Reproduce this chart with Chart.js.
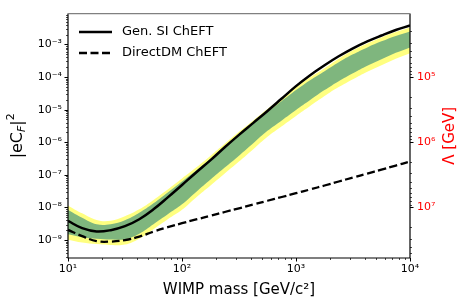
<!DOCTYPE html>
<html>
<head>
<meta charset="utf-8">
<script src="https://cdn.jsdelivr.net/npm/chart.js@4.4.0/dist/chart.umd.min.js"></script>
<style>
  html, body { margin: 0; padding: 0; background: #fff; }
  canvas { display: block; }
</style>
</head>
<body>
<canvas id="limits" width="467" height="308"></canvas>
<script>
// WIMP masses [GeV/c^2]
const masses = [10, 13.3, 17.8, 23.7, 31.6, 42.2, 56.2, 75, 100, 133, 178, 237, 316, 422, 562, 750, 1000, 1330, 1780, 2370, 3160, 4220, 5620, 7500, 10000];

// |eC_F|^2 curves
const genSI = [3.87e-9, 2.32e-9, 1.84e-9, 2.02e-9, 2.67e-9, 4.36e-9, 8.79e-9, 2.04e-8, 4.91e-8, 1.18e-7, 2.83e-7, 7.05e-7, 1.69e-6, 3.93e-6, 9.12e-6, 2.19e-5, 5.26e-5, 1.14e-4, 2.30e-4, 4.32e-4, 7.57e-4, 1.24e-3, 1.88e-3, 2.77e-3, 3.79e-3];
const directDM = [2.06e-9, 1.32e-9, 9.33e-10, 9.0e-10, 1.0e-9, 1.28e-9, 1.82e-9, 2.49e-9, 3.30e-9, 4.30e-9, 5.57e-9, 7.28e-9, 9.44e-9, 1.23e-8, 1.61e-8, 2.10e-8, 2.74e-8, 3.57e-8, 4.73e-8, 6.27e-8, 8.30e-8, 1.10e-7, 1.45e-7, 1.93e-7, 2.55e-7];

// uncertainty bands (yellow = outer, green = inner)
const band2Hi = [1.14e-8, 6.64e-9, 4.15e-9, 3.93e-9, 5.38e-9, 8.79e-9, 1.71e-8, 3.57e-8, 7.74e-8, 1.67e-7, 3.88e-7, 9.02e-7, 2.09e-6, 4.68e-6, 1.05e-5, 2.27e-5, 4.91e-5, 9.89e-5, 1.86e-4, 3.62e-4, 6.58e-4, 1.07e-3, 1.64e-3, 2.40e-3, 3.30e-3];
const band1Hi = [8.37e-9, 4.84e-9, 3.07e-9, 3.07e-9, 4.06e-9, 6.88e-9, 1.34e-8, 2.90e-8, 6.27e-8, 1.36e-7, 3.15e-7, 7.29e-7, 1.69e-6, 3.79e-6, 8.49e-6, 1.84e-5, 3.97e-5, 8.02e-5, 1.51e-4, 2.83e-4, 4.97e-4, 8.11e-4, 1.24e-3, 1.82e-3, 2.49e-3];
const band1Lo = [1.52e-9, 1.23e-9, 1.10e-9, 1.04e-9, 1.07e-9, 1.58e-9, 3.07e-9, 6.19e-9, 1.25e-8, 3.00e-8, 7.21e-8, 1.67e-7, 3.88e-7, 9.33e-7, 2.24e-6, 4.68e-6, 9.77e-6, 1.97e-5, 3.97e-5, 7.48e-5, 1.31e-4, 2.22e-4, 3.50e-4, 5.52e-4, 8.11e-4];
const band2Lo = [1.02e-9, 8.39e-10, 7.55e-10, 7.05e-10, 7.29e-10, 1.11e-9, 2.16e-9, 4.36e-9, 8.49e-9, 2.04e-8, 4.73e-8, 1.10e-7, 2.55e-7, 6.12e-7, 1.47e-6, 3.08e-6, 6.41e-6, 1.29e-5, 2.61e-5, 4.91e-5, 8.59e-5, 1.46e-4, 2.30e-4, 3.62e-4, 5.32e-4];

// tick labels
const xTicks = [10, 100, 1000, 10000];
const yTicks = [1e-9, 1e-8, 1e-7, 1e-6, 1e-5, 1e-4, 1e-3];
const lambdaTicks = [1e5, 1e6, 1e7];

const yMin = 2.83e-10, yMax = 8.8e-3;

const FONT = 'DejaVu Sans';
const SUP = {'0':'⁰','1':'¹','2':'²','3':'³','4':'⁴','5':'⁵','6':'⁶','7':'⁷','8':'⁸','9':'⁹','-':'⁻'};
function pow10Label(v) {
    const e = Math.round(Math.log10(v));
    return '10' + String(e).split('').map(c => SUP[c]).join('');
}
function pts(ys) {
    return masses.map((m, i) => ({x: m, y: ys[i]}));
}

function drawLogTicks(ctx, scale, side, area) {
    const lo = Math.floor(Math.log10(scale.min)), hi = Math.ceil(Math.log10(scale.max));
    ctx.strokeStyle = '#000';
    for (let e = lo; e <= hi; e++) {
        for (let k = 1; k <= 9; k++) {
            const v = k * Math.pow(10, e);
            if (v < scale.min * 0.999 || v > scale.max * 1.001) continue;
            const len = k === 1 ? 3.5 : 2;
            ctx.lineWidth = k === 1 ? 1 : 0.7;
            const p = Math.round(scale.getPixelForValue(v)) + 0.5;
            ctx.beginPath();
            if (side === 'bottom') { ctx.moveTo(p, area.bottom); ctx.lineTo(p, area.bottom + len); }
            if (side === 'left') { ctx.moveTo(area.left, p); ctx.lineTo(area.left - len, p); }
            if (side === 'right') { ctx.moveTo(area.right, p); ctx.lineTo(area.right + len, p); }
            ctx.stroke();
        }
    }
}

const decor = {
    id: 'decor',
    afterDraw(chart) {
        const ctx = chart.ctx, a = chart.chartArea;
        ctx.save();
        // frame
        ctx.lineWidth = 1.2;
        ctx.strokeStyle = '#000';
        ctx.beginPath();
        ctx.moveTo(a.left, a.top); ctx.lineTo(a.left, a.bottom); ctx.lineTo(a.right, a.bottom); ctx.lineTo(a.right, a.top);
        ctx.stroke();
        ctx.strokeStyle = '#808080';
        ctx.beginPath(); ctx.moveTo(a.left, a.top); ctx.lineTo(a.right, a.top); ctx.stroke();

        drawLogTicks(ctx, chart.scales.x, 'bottom', a);
        drawLogTicks(ctx, chart.scales.y, 'left', a);
        drawLogTicks(ctx, chart.scales.lambda, 'right', a);

        // legend
        ctx.lineWidth = 2.5;
        ctx.strokeStyle = '#000';
        ctx.beginPath(); ctx.moveTo(79, 32); ctx.lineTo(112, 32); ctx.stroke();
        ctx.setLineDash([8, 3.5]);
        ctx.beginPath(); ctx.moveTo(79, 53); ctx.lineTo(112, 53); ctx.stroke();
        ctx.setLineDash([]);
        ctx.fillStyle = '#000';
        ctx.font = '13px "' + FONT + '"';
        ctx.textBaseline = 'middle';
        ctx.textAlign = 'left';
        ctx.fillText('Gen. SI ChEFT', 122, 32);
        ctx.fillText('DirectDM ChEFT', 122, 53);

        // x title
        ctx.font = '15px "' + FONT + '"';
        ctx.textAlign = 'center';
        ctx.fillText('WIMP mass [GeV/c²]', (a.left + a.right) / 2, 290);

        // y title |eC_F|^2
        const parts = [
            {t: '|eC', f: '16px "' + FONT + '"', dy: 0},
            {t: 'F', f: 'italic 11px "' + FONT + '"', dy: 4},
            {t: '|', f: '16px "' + FONT + '"', dy: 0},
            {t: '2', f: '11px "' + FONT + '"', dy: -7}
        ];
        let w = 0;
        parts.forEach(p => { ctx.font = p.f; p.w = ctx.measureText(p.t).width; w += p.w; });
        ctx.save();
        ctx.translate(18, (a.top + a.bottom) / 2);
        ctx.rotate(-Math.PI / 2);
        ctx.textAlign = 'left';
        let cx = -w / 2;
        parts.forEach(p => { ctx.font = p.f; ctx.fillText(p.t, cx, p.dy); cx += p.w; });
        ctx.restore();

        // right title
        ctx.save();
        ctx.translate(450, (a.top + a.bottom) / 2);
        ctx.rotate(-Math.PI / 2);
        ctx.fillStyle = '#ff0000';
        ctx.font = '15px "' + FONT + '"';
        ctx.textAlign = 'center';
        ctx.fillText('Λ [GeV]', 0, 0);
        ctx.restore();
        ctx.restore();
    }
};

const bandLine = {borderWidth: 0, pointRadius: 0, tension: 0.4};

new Chart(document.getElementById('limits'), {
    type: 'line',
    data: {
        datasets: [
            {label: 'Gen. SI ChEFT', data: pts(genSI), borderColor: '#000', borderWidth: 2.5, pointRadius: 0, fill: false, tension: 0.4, order: 0},
            {label: 'DirectDM ChEFT', data: pts(directDM), borderColor: '#000', borderWidth: 2.3, borderDash: [8, 3.5], pointRadius: 0, fill: false, tension: 0.4, order: 1},
            Object.assign({label: '1s hi', data: pts(band1Hi), fill: '+1', backgroundColor: 'rgb(127,182,126)', order: 2}, bandLine),
            Object.assign({label: '1s lo', data: pts(band1Lo), fill: false, order: 3}, bandLine),
            Object.assign({label: '2s hi', data: pts(band2Hi), fill: '+1', backgroundColor: 'rgb(255,255,128)', order: 4}, bandLine),
            Object.assign({label: '2s lo', data: pts(band2Lo), fill: false, order: 5}, bandLine)
        ]
    },
    options: {
        responsive: false,
        animation: false,
        devicePixelRatio: 1,
        layout: {padding: {top: 12, left: 0, right: 0, bottom: 0}},
        plugins: {legend: {display: false}, tooltip: {enabled: false}},
        scales: {
            x: {
                type: 'logarithmic', min: 10, max: 10000, bounds: 'data',
                afterBuildTicks: s => { s.ticks = xTicks.map(v => ({value: v})); },
                afterFit: s => { s.height = 50; },
                ticks: {callback: v => pow10Label(v), font: {family: FONT, size: 11}, color: '#000', padding: 5, autoSkip: false, maxRotation: 0},
                grid: {display: false, drawTicks: false},
                border: {display: false}
            },
            y: {
                type: 'logarithmic', position: 'left', min: yMin, max: yMax, bounds: 'data',
                afterBuildTicks: s => { s.ticks = yTicks.map(v => ({value: v})); },
                afterFit: s => { s.width = 68; },
                ticks: {callback: v => pow10Label(v), font: {family: FONT, size: 11}, color: '#000', padding: 6, autoSkip: false},
                grid: {display: false, drawTicks: false},
                border: {display: false}
            },
            lambda: {
                type: 'logarithmic', position: 'right', reverse: true, bounds: 'data',
                min: 1000 / Math.sqrt(yMax), max: 1000 / Math.sqrt(yMin),
                afterBuildTicks: s => { s.ticks = lambdaTicks.map(v => ({value: v})); },
                afterFit: s => { s.width = 57; },
                ticks: {callback: v => pow10Label(v), font: {family: FONT, size: 11}, color: '#ff0000', padding: 7, autoSkip: false},
                grid: {display: false, drawTicks: false},
                border: {display: false}
            }
        }
    },
    plugins: [decor]
});
</script>
</body>
</html>
